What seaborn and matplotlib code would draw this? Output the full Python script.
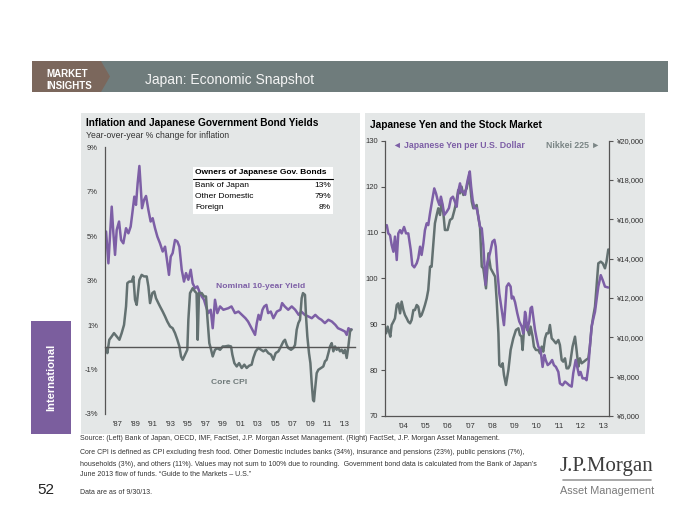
import matplotlib
matplotlib.use("Agg")
import matplotlib.pyplot as plt
from matplotlib.patches import Rectangle, Polygon
from matplotlib.lines import Line2D
import pandas as pd
import seaborn as sns

# ---------------- data ----------------
jgb_t = [1985.63, 1985.90, 1986.10, 1986.28, 1986.47, 1986.66, 1986.85, 1987.12, 1987.35, 1987.61,
         1987.92, 1988.19, 1988.45, 1988.64, 1988.87, 1989.06, 1989.25, 1989.45, 1989.60, 1989.75,
         1989.98, 1990.21, 1990.48, 1990.74, 1990.97, 1991.24, 1991.51, 1991.81, 1992.12, 1992.39,
         1992.58, 1992.84, 1993.04, 1993.26, 1993.53, 1993.80, 1994.03, 1994.30, 1994.56, 1994.79,
         1995.06, 1995.33, 1995.55, 1995.82, 1996.09, 1996.32, 1996.59, 1996.85, 1997.08, 1997.35,
         1997.62, 1997.85, 1998.11, 1998.38, 1998.69, 1999.07, 1999.64, 2000.00, 2000.40, 2000.80,
         2001.20, 2001.60, 2001.90, 2002.30, 2002.70, 2002.90, 2003.10, 2003.30, 2003.55, 2003.75,
         2004.00, 2004.20, 2004.50, 2004.80, 2005.20, 2005.60, 2005.80, 2006.10, 2006.50, 2006.90,
         2007.30, 2007.70, 2008.00, 2008.40, 2008.80, 2009.20, 2009.60, 2010.00, 2010.30, 2010.70,
         2011.10, 2011.50, 2011.90, 2012.20, 2012.60, 2013.00, 2013.20, 2013.40, 2013.60, 2013.75]
jgb_v = [5.21, 3.78, 5.13, 6.33, 5.13, 4.16, 5.28, 5.66, 4.83, 4.68,
         5.36, 5.13, 5.43, 6.03, 6.78, 6.41, 7.38, 8.16, 7.23, 6.26,
         6.63, 6.81, 6.18, 5.66, 5.81, 5.36, 4.98, 4.68, 4.31, 4.53,
         4.01, 3.26, 4.08, 4.24, 4.83, 4.76, 4.53, 3.49, 2.96, 3.34,
         3.04, 3.49, 2.89, 2.66, 2.74, 2.51, 2.29, 2.14, 1.84, 1.54,
         1.69, 0.86, 2.14, 1.54, 1.84, 1.69, 1.76, 1.84, 1.54, 1.61,
         1.46, 1.31, 1.16, 0.86, 0.56, 1.09, 1.46, 1.24, 1.69, 1.84,
         1.91, 1.54, 1.61, 1.31, 1.61, 1.69, 1.99, 1.84, 1.69, 1.84,
         1.69, 1.46, 1.61, 1.46, 1.39, 1.31, 1.46, 1.31, 1.24, 1.09,
         1.24, 1.16, 1.01, 0.86, 0.79, 0.71, 0.56, 0.86, 0.79, 0.80]

cpi_t = [1985.63, 1985.78, 1986.00, 1986.28, 1986.54, 1986.85, 1987.16, 1987.42, 1987.69, 1987.92,
         1988.07, 1988.30, 1988.57, 1988.76, 1988.95, 1989.14, 1989.45, 1989.71, 1989.98, 1990.29,
         1990.48, 1990.67, 1990.93, 1991.16, 1991.35, 1991.62, 1991.81, 1992.12, 1992.39, 1992.65,
         1992.96, 1993.26, 1993.53, 1993.80, 1994.03, 1994.22, 1994.41, 1994.68, 1994.94, 1995.06,
         1995.25, 1995.56, 1995.82, 1996.00, 1996.13, 1996.28, 1996.59, 1996.85, 1997.08, 1997.23,
         1997.46, 1997.62, 1997.85, 1998.11, 1998.38, 1998.69, 1999.00, 1999.26, 1999.64, 1999.95,
         2000.10, 2000.33, 2000.60, 2000.87, 2001.17, 2001.47, 2001.74, 2002.01, 2002.31, 2002.50,
         2002.77, 2003.08, 2003.38, 2003.65, 2003.92, 2004.22, 2004.53, 2004.80, 2005.06, 2005.37,
         2005.67, 2005.94, 2006.13, 2006.32, 2006.50, 2006.82, 2007.09, 2007.28, 2007.47, 2007.66,
         2007.85, 2008.04, 2008.19, 2008.42, 2008.54, 2008.69, 2008.88, 2009.04, 2009.19, 2009.34,
         2009.45, 2009.57, 2009.76, 2009.95, 2010.26, 2010.52, 2010.71, 2010.90, 2011.10, 2011.29,
         2011.48, 2011.67, 2011.86, 2012.05, 2012.24, 2012.43, 2012.62, 2012.81, 2013.00, 2013.20,
         2013.39, 2013.58, 2013.75]
cpi_v = [-0.03, -0.26, 0.34, 0.49, 0.64, 0.49, 0.34, 0.64, 1.01, 1.84,
         2.89, 2.96, 2.96, 3.19, 2.14, 1.91, 3.04, 3.26, 3.19, 3.19,
         2.74, 1.99, 2.44, 2.51, 2.21, 1.99, 1.84, 1.61, 1.39, 1.16,
         0.94, 0.86, 0.64, 0.34, 0.04, -0.41, -0.56, -0.33, -0.11, 1.24,
         2.44, 2.66, 2.51, 2.44, 0.34, 2.44, 2.44, 2.29, 2.29, 1.39,
         0.19, -0.04, -0.41, -0.11, -0.04, -0.11, 0.04, 0.04, 0.07, 0.04,
         -0.33, -0.71, -0.86, -0.71, -0.93, -0.78, -0.93, -0.83, -0.78, -0.48,
         -0.18, -0.03, -0.11, -0.18, -0.11, -0.26, -0.33, -0.56, -0.26, -0.18,
         0.04, 0.26, 0.34, 0.11, -0.03, -0.11, -0.03, 0.11, 0.79, 1.09,
         1.24, 2.21, 2.44, 2.36, 1.39, 0.49, -0.26, -0.71, -1.61, -2.36,
         -2.43, -1.91, -1.16, -1.01, -0.93, -0.86, -0.63, -0.56, -0.26, 0.04,
         0.19, -0.18, 0.04, -0.11, -0.03, -0.18, -0.11, -0.26, -0.11, -0.48,
         0.04, 0.71, 0.80]

yen_t = [2003.75, 2003.82, 2003.90, 2003.97, 2004.05, 2004.12, 2004.20, 2004.27, 2004.35, 2004.42,
         2004.53, 2004.62, 2004.72, 2004.83, 2004.90, 2004.99, 2005.10, 2005.17, 2005.25, 2005.32,
         2005.40, 2005.47, 2005.55, 2005.62, 2005.70, 2005.80, 2005.89, 2005.97, 2006.04, 2006.12,
         2006.19, 2006.27, 2006.34, 2006.45, 2006.55, 2006.64, 2006.73, 2006.82, 2006.90, 2006.97,
         2007.05, 2007.12, 2007.20, 2007.28, 2007.35, 2007.43, 2007.49, 2007.55, 2007.62, 2007.70,
         2007.80, 2007.88, 2007.95, 2008.03, 2008.10, 2008.20, 2008.28, 2008.40, 2008.51, 2008.60,
         2008.66, 2008.73, 2008.82, 2008.93, 2009.03, 2009.09, 2009.15, 2009.24, 2009.33, 2009.38,
         2009.45, 2009.53, 2009.63, 2009.72, 2009.83, 2009.90, 2009.98, 2010.02, 2010.08, 2010.17,
         2010.23, 2010.29, 2010.35, 2010.43, 2010.50, 2010.58, 2010.68, 2010.77, 2010.85, 2010.91,
         2011.00, 2011.10, 2011.20, 2011.28, 2011.37, 2011.48, 2011.55, 2011.67, 2011.78, 2011.88,
         2011.97, 2012.08, 2012.15, 2012.26, 2012.33, 2012.41, 2012.48, 2012.57, 2012.68, 2012.75,
         2012.83, 2012.90, 2012.98, 2013.06, 2013.13, 2013.20, 2013.28, 2013.39, 2013.48, 2013.58,
         2013.73]
yen_v = [111.6, 109.8, 109.4, 107.3, 105.8, 109.1, 104.0, 109.8, 110.5, 109.8,
         111.2, 109.8, 109.8, 106.2, 102.9, 102.4, 103.3, 104.4, 106.9, 105.1,
         107.6, 110.5, 112.0, 111.6, 114.2, 117.1, 119.6, 118.5, 117.1, 116.0,
         117.8, 116.0, 113.8, 114.5, 115.3, 117.4, 117.8, 116.7, 115.6, 118.9,
         120.7, 118.9, 118.9, 118.2, 120.3, 122.2, 123.3, 120.0, 117.1, 115.3,
         115.3, 113.4, 111.2, 110.9, 107.3, 98.6, 103.3, 105.5, 108.0, 108.4,
         106.9, 101.8, 96.7, 93.1, 89.8, 93.8, 98.2, 98.9, 98.2, 95.6,
         96.0, 94.8, 92.4, 90.6, 89.5, 88.0, 92.7, 91.8, 88.7, 90.6,
         93.5, 93.8, 91.6, 88.7, 86.9, 85.1, 84.4, 80.7, 83.3, 82.2,
         81.1, 81.5, 82.2, 81.1, 80.7, 79.6, 77.1, 76.7, 77.5, 77.1,
         76.7, 76.4, 79.3, 82.2, 80.7, 78.9, 79.6, 78.2, 78.2, 77.8,
         80.7, 85.1, 89.5, 91.3, 92.7, 95.3, 98.2, 100.7, 99.6, 98.2,
         98.0]

nk_t = [2003.72, 2003.79, 2003.85, 2003.91, 2003.97, 2004.05, 2004.12, 2004.20, 2004.27, 2004.35,
        2004.42, 2004.50, 2004.57, 2004.65, 2004.72, 2004.80, 2004.87, 2004.95, 2005.02, 2005.10,
        2005.17, 2005.25, 2005.32, 2005.40, 2005.47, 2005.55, 2005.62, 2005.70, 2005.77, 2005.85,
        2005.92, 2006.00, 2006.07, 2006.15, 2006.22, 2006.30, 2006.37, 2006.49, 2006.60, 2006.70,
        2006.80, 2006.90, 2006.97, 2007.05, 2007.12, 2007.20, 2007.27, 2007.35, 2007.43, 2007.50,
        2007.58, 2007.65, 2007.73, 2007.80, 2007.88, 2007.95, 2008.03, 2008.10, 2008.22, 2008.33,
        2008.43, 2008.55, 2008.63, 2008.70, 2008.78, 2008.82, 2008.90, 2008.97, 2009.03, 2009.12,
        2009.23, 2009.33, 2009.45, 2009.57, 2009.68, 2009.75, 2009.82, 2009.87, 2009.93, 2010.02,
        2010.08, 2010.17, 2010.23, 2010.32, 2010.38, 2010.47, 2010.58, 2010.65, 2010.73, 2010.80,
        2010.88, 2010.95, 2011.03, 2011.10, 2011.18, 2011.25, 2011.37, 2011.48, 2011.55, 2011.63,
        2011.70, 2011.78, 2011.85, 2011.93, 2012.00, 2012.12, 2012.23, 2012.30, 2012.38, 2012.45,
        2012.53, 2012.63, 2012.72, 2012.83, 2012.90, 2012.98, 2013.05, 2013.13, 2013.20, 2013.28,
        2013.39, 2013.48, 2013.58, 2013.65, 2013.73]
nk_v = [10205, 10544, 10290, 10035, 10628, 10798, 10967, 11645, 11730, 11222,
        11815, 11391, 11137, 10967, 10798, 10713, 10882, 11391, 11391, 11645,
        11561, 11052, 11137, 11391, 11645, 11984, 12408, 13595, 13595, 14781,
        15798, 16222, 16561, 16222, 16900, 16307, 15459, 15459, 15967, 16052,
        16476, 16985, 17493, 17324, 17663, 17239, 17408, 17578, 18086, 17832,
        16900, 16561, 16646, 16730, 16052, 15629, 13595, 13510, 12493, 14272,
        13510, 13256, 13087, 11900, 10205, 8594, 8510, 8679, 8086, 7577,
        8340, 9357, 9950, 10374, 10459, 10120, 10035, 9357, 10374, 10798,
        10459, 10120, 10544, 10035, 9527, 9357, 9357, 9188, 9527, 9273,
        9950, 10205, 10205, 10628, 9950, 9866, 9696, 9866, 9611, 8849,
        8764, 8933, 8425, 8425, 8594, 9527, 10035, 9357, 8510, 8933,
        8679, 8764, 8849, 8933, 9527, 10544, 11052, 11560, 12578, 13764,
        13849, 13764, 13510, 13849, 14470]

left_years = [1987, 1989, 1991, 1993, 1995, 1997, 1999, 2001, 2003, 2005, 2007, 2009, 2011, 2013]
left_labels = ["'87", "'89", "'91", "'93", "'95", "'97", "'99", "'01", "'03", "'05", "'07", "'09", "'11", "'13"]
left_yticks = [9, 7, 5, 3, 1, -1, -3]
right_years = [2004, 2005, 2006, 2007, 2008, 2009, 2010, 2011, 2012, 2013]
right_labels = ["'04", "'05", "'06", "'07", "'08", "'09", "'10", "'11", "'12", "'13"]
yen_ticks = [70, 80, 90, 100, 110, 120, 130]
nk_ticks = [6000, 8000, 10000, 12000, 14000, 16000, 18000, 20000]
owners = ["Bank of Japan", "Other Domestic", "Foreign"]
shares = ["13%", "79%", "8%"]

# ---------------- style ----------------
sns.set_style("white")
plt.rcParams['font.family'] = ['Liberation Sans', 'DejaVu Sans']

PURPLE = '#7d5fa6'
GRAY = '#637171'
PANEL = '#e4e7e7'
AXC = '#555555'
TXT = '#333333'

W, H = 700, 525
fig = plt.figure(figsize=(7, 5.25), dpi=100)
fig.patch.set_facecolor('white')


def fx(x):
    return x / W


def fy(y):
    return 1 - y / H


def rect(x0, y0, x1, y1, color, z=-5):
    fig.add_artist(Rectangle((fx(x0), fy(y1)), (x1 - x0) / W, (y1 - y0) / H,
                             transform=fig.transFigure, facecolor=color,
                             edgecolor='none', zorder=z))


def ftext(x, y, s, **kw):
    kw.setdefault('va', 'center')
    fig.text(fx(x), fy(y), s, **kw)


NARROW = ['Liberation Sans Narrow', 'Liberation Sans', 'DejaVu Sans']

# header bar
rect(32, 61, 668, 92, '#6f7c7c')
fig.add_artist(Polygon([(fx(32), fy(61)), (fx(101), fy(61)), (fx(110), fy(76.5)),
                        (fx(101), fy(92)), (fx(32), fy(92))], closed=True,
                       transform=fig.transFigure, facecolor='#7b675c',
                       edgecolor='none', zorder=-4))
ftext(46, 74, "MARKET", color='white', fontsize=7, weight='bold', family=NARROW)
ftext(46, 86, "INSIGHTS", color='white', fontsize=7, weight='bold', family=NARROW)
ftext(145, 80, "Japan: Economic Snapshot", color='#f4f4f4', fontsize=10, family=NARROW)

# side tab
rect(31, 321, 71, 434, '#7b5e9e')
ftext(51, 377, "International", color='white', fontsize=8, weight='bold',
      rotation=90, ha='center')

# panels
rect(81, 113, 360, 434, PANEL)
rect(365, 113, 645, 434, PANEL)

# ---------------- left chart ----------------
ax1 = fig.add_axes([fx(105), fy(414), 250 / W, (414 - 147.3) / H])
ax1.set_facecolor('none')
df_jgb = pd.DataFrame({'t': jgb_t, 'v': jgb_v})
df_cpi = pd.DataFrame({'t': cpi_t, 'v': cpi_v})
sns.lineplot(data=df_jgb, x='t', y='v', ax=ax1, color=PURPLE, lw=1.8,
             estimator=None, sort=False)
sns.lineplot(data=df_cpi, x='t', y='v', ax=ax1, color=GRAY, lw=1.8,
             estimator=None, sort=False)
ax1.set_xlim(1985.51, 2014.15)
ax1.set_ylim(-3, 9)
ax1.set_xlabel('')
ax1.set_ylabel('')
for s in ['top', 'right']:
    ax1.spines[s].set_visible(False)
ax1.spines['left'].set_color(AXC)
ax1.spines['left'].set_linewidth(0.9)
ax1.spines['bottom'].set_position(('data', 0))
ax1.spines['bottom'].set_color(AXC)
ax1.spines['bottom'].set_linewidth(1.0)
ax1.set_xticks(left_years)
ax1.tick_params(axis='x', direction='out', length=3, width=0.8, color=AXC,
                labelbottom=False)
ax1.set_yticks(left_yticks, labels=[f"{v}%" for v in left_yticks])
ax1.tick_params(axis='y', direction='out', length=3, width=0.8, color=AXC,
                labelsize=5.5, labelcolor=TXT, pad=2)
sec = ax1.secondary_xaxis(0)
sec.set_xticks(left_years, labels=left_labels)
sec.tick_params(length=0, labelsize=5.5, labelcolor=TXT, pad=5)
sec.spines['bottom'].set_visible(False)

ftext(86, 123, "Inflation and Japanese Government Bond Yields", fontsize=7.3,
      weight='bold', color='black')
ftext(86, 135, "Year-over-year % change for inflation", fontsize=6.2,
      color=TXT, family=NARROW)
ftext(261, 287, "Nominal 10-year Yield", fontsize=6.1, weight='bold',
      color=PURPLE, ha='center')
ftext(229, 383, "Core CPI", fontsize=6.1, weight='bold', color='#6f7a7a',
      ha='center')

# owners table
rect(193, 167, 333, 214, 'white', z=5)
ftext(195, 173, "Owners of Japanese Gov. Bonds", fontsize=6, weight='bold',
      color='black', zorder=6)
fig.add_artist(Line2D([fx(193), fx(333)], [fy(178.5), fy(178.5)],
                      transform=fig.transFigure, color='black', lw=0.8, zorder=6))
for i, (o, s) in enumerate(zip(owners, shares)):
    yy = 185 + i * 11
    ftext(195, yy, o, fontsize=6, color='black', zorder=6)
    ftext(331, yy, s, fontsize=6, color='black', ha='right', zorder=6)

# ---------------- right chart ----------------
ax2 = fig.add_axes([fx(385), fy(416), 224.3 / W, 275.3 / H])
ax3 = ax2.twinx()
df_yen = pd.DataFrame({'t': yen_t, 'v': yen_v})
df_nk = pd.DataFrame({'t': nk_t, 'v': nk_v})
sns.lineplot(data=df_nk, x='t', y='v', ax=ax3, color=GRAY, lw=1.8,
             estimator=None, sort=False)
sns.lineplot(data=df_yen, x='t', y='v', ax=ax2, color=PURPLE, lw=1.8,
             estimator=None, sort=False)
ax2.set_zorder(ax3.get_zorder() + 1)
ax2.patch.set_visible(False)
ax3.patch.set_visible(False)
ax2.set_xlim(2003.671, 2013.775)
ax2.set_ylim(70, 130)
ax3.set_ylim(6000, 20000)
for a in (ax2, ax3):
    a.set_xlabel('')
    a.set_ylabel('')
    a.spines['top'].set_visible(False)
ax2.spines['right'].set_visible(False)
ax3.spines['left'].set_visible(False)
ax3.spines['bottom'].set_visible(False)
ax2.spines['left'].set_color(AXC)
ax2.spines['left'].set_linewidth(0.9)
ax2.spines['bottom'].set_color(AXC)
ax2.spines['bottom'].set_linewidth(0.9)
ax3.spines['right'].set_color(AXC)
ax3.spines['right'].set_linewidth(0.9)
ax2.set_xticks(right_years)
ax2.set_xticks([y + 0.5 for y in right_years], labels=right_labels, minor=True)
ax2.tick_params(axis='x', which='major', direction='in', length=3, width=0.8,
                color=AXC, labelbottom=False)
ax2.tick_params(axis='x', which='minor', length=0, labelsize=5.5,
                labelcolor=TXT, pad=5)
ax2.set_yticks(yen_ticks, labels=[str(v) for v in yen_ticks])
ax2.tick_params(axis='y', direction='out', length=3, width=0.8, color=AXC,
                labelsize=5.5, labelcolor=TXT, pad=2)
ax3.set_yticks(nk_ticks, labels=[f"¥{v:,}" for v in nk_ticks])
ax3.tick_params(axis='y', direction='out', length=3, width=0.8, color=AXC,
                labelsize=5.5, labelcolor=TXT, pad=2)

ftext(370, 125, "Japanese Yen and the Stock Market", fontsize=7.3,
      weight='bold', color='black')
ftext(393, 145, "◄ Japanese Yen per U.S. Dollar", fontsize=6.3,
      weight='bold', color=PURPLE)
ftext(600, 145, "Nikkei 225 ►", fontsize=6.3, weight='bold',
      color='#7a8585', ha='right')

# ---------------- footer ----------------
ftext(80, 439, "Source: (Left) Bank of Japan, OECD, IMF, FactSet, J.P. Morgan Asset Management. "
      "(Right) FactSet, J.P. Morgan Asset Management.", fontsize=5, color=TXT)
notes = ["Core CPI is defined as CPI excluding fresh food. Other Domestic includes banks (34%), "
         "insurance and pensions (23%), public pensions (7%),",
         "households (3%), and others (11%). Values may not sum to 100% due to rounding.  "
         "Government bond data is calculated from the Bank of Japan\u2019s",
         "June 2013 flow of funds. \u201cGuide to the Markets \u2013 U.S.\u201d"]
for i, line in enumerate(notes):
    ftext(80, 453 + i * 11, line, fontsize=5, color=TXT)
ftext(80, 493, "Data are as of 9/30/13.", fontsize=5, color=TXT)
ftext(37, 490, "52", fontsize=11, color='#222222')
ftext(607, 467, "J.P.Morgan", fontsize=15, color='#3d3d3d', ha='center',
      family=['Liberation Serif', 'DejaVu Serif'])
fig.add_artist(Line2D([fx(563), fx(651)], [fy(480), fy(480)],
                      transform=fig.transFigure, color='#9a9a9a', lw=1.2))
ftext(607, 491, "Asset Management", fontsize=7.8, color='#7a7a7a', ha='center',
      family=NARROW)

fig.savefig('out.png', dpi=100, facecolor='white')
